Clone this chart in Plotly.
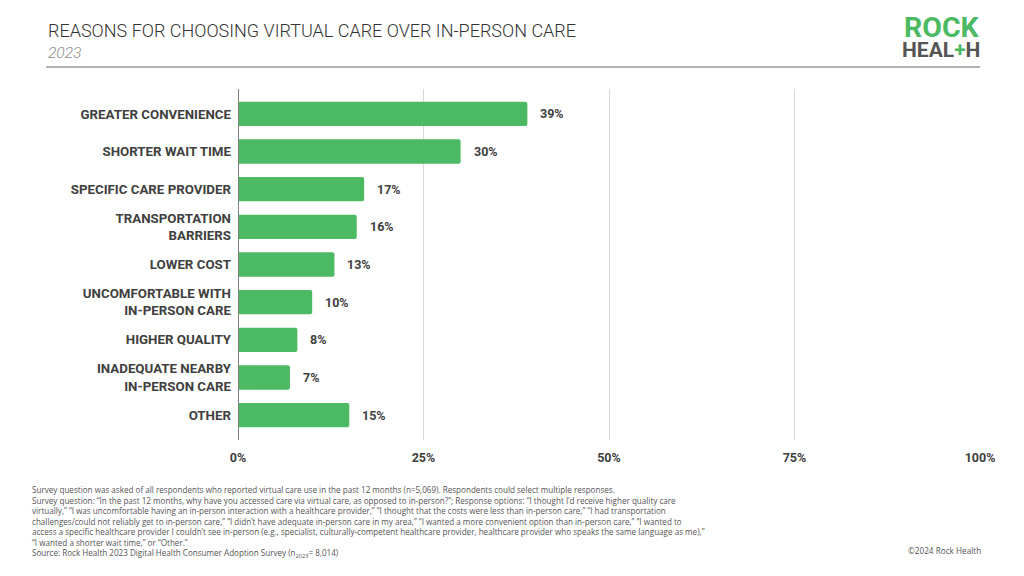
import plotly.graph_objects as go

categories = [
    "GREATER CONVENIENCE",
    "SHORTER WAIT TIME",
    "SPECIFIC CARE PROVIDER",
    "TRANSPORTATION<br>BARRIERS",
    "LOWER COST",
    "UNCOMFORTABLE WITH<br>IN-PERSON CARE",
    "HIGHER QUALITY",
    "INADEQUATE NEARBY<br>IN-PERSON CARE",
    "OTHER",
]
values = [39, 30, 17, 16, 13, 10, 8, 7, 15]
value_labels = ["39%", "30%", "17%", "16%", "13%", "10%", "8%", "7%", "15%"]
x_ticks = [0, 25, 50, 75, 100]
x_tick_labels = ["0%", "25%", "50%", "75%", "100%"]

GREEN = "#4CB963"
DARK = "#404040"

footnote = (
    "Survey question was asked of all respondents who reported virtual care use in the past 12 months (n=5,069). Respondents could select multiple responses.<br>"
    "Survey question: \u201cIn the past 12 months, why have you accessed care via virtual care, as opposed to in-person?\u201d; Response options: \u201cI thought I\u2019d receive higher quality care<br>"
    "virtually,\u201d \u201cI was uncomfortable having an in-person interaction with a healthcare provider,\u201d \u201cI thought that the costs were less than in-person care,\u201d \u201cI had transportation<br>"
    "challenges/could not reliably get to in-person care,\u201d \u201cI didn\u2019t have adequate in-person care in my area,\u201d \u201cI wanted a more convenient option than in-person care,\u201d \u201cI wanted to<br>"
    "access a specific healthcare provider I couldn\u2019t see in-person (e.g., specialist, culturally-competent healthcare provider, healthcare provider who speaks the same language as me),\u201d<br>"
    "\u201cI wanted a shorter wait time,\u201d or \u201cOther.\u201d<br>"
    "Source: Rock Health 2023 Digital Health Consumer Adoption Survey (n<sub>2023</sub>= 8,014)"
)

# page offset (browser body margin)
OFF = 8
W, H = 1024 - OFF, 576 - OFF
L, R, T, B = 238 - OFF, 44, 89 - OFF, 136
pw, ph = W - L - R, H - T - B


def px(x, y):
    """screen pixel -> paper coords"""
    return (x - OFF - L) / pw, 1 - (y - OFF - T) / ph


fig = go.Figure()
fig.add_trace(go.Bar(
    x=values,
    y=categories,
    orientation="h",
    marker=dict(color=GREEN, cornerradius=2, line=dict(width=0)),
    width=0.645,
    hoverinfo="skip",
))

for c, v, t in zip(categories, values, value_labels):
    fig.add_annotation(
        x=v, y=c, text=t, xref="x", yref="y",
        xanchor="left", yanchor="middle", xshift=11, showarrow=False,
        font=dict(family="Roboto", size=12.5, color=DARK, weight="bold"),
    )


def note(x, y, text, xanchor, yanchor, font, align="left"):
    ax, ay = px(x, y)
    fig.add_annotation(
        x=ax, y=ay, xref="paper", yref="paper", text=text, showarrow=False,
        xanchor=xanchor, yanchor=yanchor, align=align, font=font,
    )


note(46, 30, "REASONS FOR CHOOSING VIRTUAL CARE OVER IN-PERSON CARE", "left", "middle",
     dict(family="Roboto", size=18, color="#333333", weight=300))
note(46, 53, "<i>2023</i>", "left", "middle",
     dict(family="Roboto", size=15.5, color="#8a8a8a", weight=300))
note(982, 27, "<b>ROCK</b>", "right", "middle",
     dict(family="Roboto", size=28.5, color=GREEN))
note(982, 49.5, "<b>HEAL<span style='color:#4CB963'>+</span>H</b>", "right", "middle",
     dict(family="Roboto", size=21, color="#555555"))
note(30, 482, footnote, "left", "top",
     dict(family="Open Sans", size=8.1, color="#555555"))
note(983, 550, "\u00a92024 Rock Health", "right", "middle",
     dict(family="Open Sans", size=8.2, color="#555555"))

lx0, ly = px(46, 67)
lx1, _ = px(980, 67)
fig.add_shape(
    type="line", xref="paper", yref="paper",
    x0=lx0, x1=lx1, y0=ly, y1=ly,
    line=dict(color="#9a9a9a", width=1.5),
)

fig.update_layout(
    width=W, height=H,
    margin=dict(l=L, r=R, t=T, b=B),
    paper_bgcolor="white", plot_bgcolor="white",
    showlegend=False,
    xaxis=dict(
        range=[0, 100], tickvals=x_ticks, ticktext=x_tick_labels,
        showgrid=True, gridcolor="#d9d9d9", gridwidth=1.2,
        zeroline=False, showline=False,
        tickfont=dict(family="Roboto", size=12.5, color=DARK, weight="bold"),
        ticks="", ticklabelstandoff=8,
    ),
    yaxis=dict(
        range=[8.66, -0.66], showgrid=False, zeroline=False,
        showline=False, ticks="",
        tickfont=dict(family="Roboto", size=13.3, color=DARK, weight="bold"),
        ticklabelstandoff=6,
    ),
)
fig.add_shape(
    type="line", xref="x", yref="paper", x0=0, x1=0, y0=0, y1=1,
    line=dict(color="#7f7f7f", width=2), layer="above",
)

fig.write_html("out.html")
